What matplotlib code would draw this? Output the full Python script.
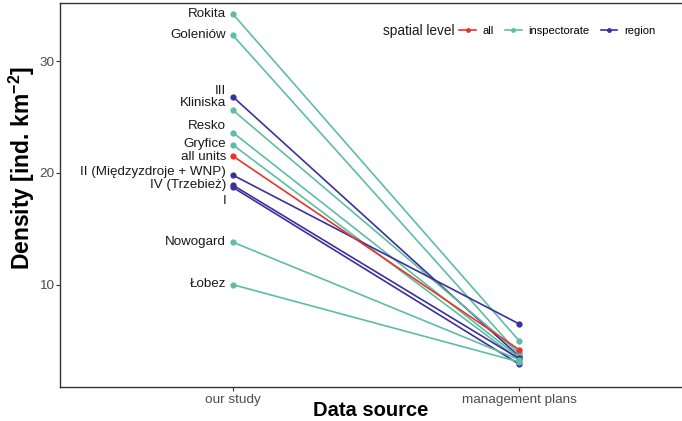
import matplotlib.pyplot as plt
from matplotlib.lines import Line2D

plt.rcParams['font.family'] = ['Liberation Sans', 'DejaVu Sans']
plt.rcParams['mathtext.default'] = 'regular'

# data
sources = ['our study', 'management plans']
units = ['Rokita', 'Goleniów', 'III', 'Kliniska', 'Resko', 'Gryfice', 'all units',
         'II (Międzyzdroje + WNP)', 'IV (Trzebież)', 'I', 'Nowogard', 'Łobez']
levels = ['inspectorate', 'inspectorate', 'region', 'inspectorate', 'inspectorate',
          'inspectorate', 'all', 'region', 'region', 'region', 'inspectorate', 'inspectorate']
our_study = [34.2, 32.3, 26.8, 25.6, 23.6, 22.5, 21.5, 19.8, 18.9, 18.7, 13.8, 10.0]
mgmt_plans = [5.0, 3.8, 3.6, 3.9, 3.5, 3.3, 4.2, 6.5, 3.4, 2.9, 3.3, 3.1]

colors = {'all': '#E8352B', 'inspectorate': '#5DBEA3', 'region': '#3C2F9E'}
# label nudges (points) to mimic repelled labels
nudge = [0, 0, 4.5, 5, 4.5, 0.5, -0.5, 2, 0.5, -10, 0, 0.5]

fig = plt.figure(figsize=(6.82, 4.21), dpi=100)
ax = fig.add_axes([60 / 682, 1 - 387 / 421, 1 - 60 / 682, (387 - 3) / 421])

# draw purple/teal first, red on top like the reference
order = sorted(range(len(units)), key=lambda i: levels[i] == 'all')
for i in order:
    c = colors[levels[i]]
    ax.plot([1, 2], [our_study[i], mgmt_plans[i]], color=c, lw=1.2,
            marker='o', markersize=4.5, markeredgewidth=0, zorder=3)

for i, name in enumerate(units):
    ax.annotate(name, (1, our_study[i]), xytext=(-5, nudge[i]),
                textcoords='offset points', ha='right', va='center',
                fontsize=9.6, color='#1a1a1a')

ax.set_xlim(0.395, 2.57)
ax.set_ylim(0.85, 35.2)
ax.set_xticks([1, 2])
ax.set_xticklabels(sources)
ax.set_yticks([10, 20, 30])
ax.tick_params(colors='#333333', labelcolor='#4d4d4d', labelsize=9.7, length=3, width=0.8)
ax.tick_params(axis='x', pad=2)
ax.tick_params(axis='y', pad=1)
for s in ['left', 'bottom', 'top']:
    ax.spines[s].set_color('#333333')
    ax.spines[s].set_linewidth(1.0)
ax.spines['right'].set_visible(False)

ax.set_xlabel('Data source', fontsize=14.5, fontweight='bold', va='center')
ax.xaxis.set_label_coords(0.5, -24 / 384)
ax.set_ylabel('Density [ind. km$^{-2}$]', fontsize=16.5, fontweight='bold', va='center')
ax.yaxis.set_label_coords(-38 / 622, (387 - 168) / 384)

# legend
handles = [Line2D([], [], color=colors[k], lw=1.2, marker='o', markersize=3.5,
                  markeredgewidth=0) for k in ['all', 'inspectorate', 'region']]
ax.text(0.519, 0.928, 'spatial level', transform=ax.transAxes, fontsize=9.8,
        ha='left', va='center', color='#1a1a1a')
ax.legend(handles, ['all', 'inspectorate', 'region'], ncol=3, frameon=False,
          fontsize=8, loc='center left', bbox_to_anchor=(0.633, 0.928),
          handlelength=1.5, handletextpad=0.6, columnspacing=1.0, borderpad=0)

fig.savefig('out.png', dpi=100)
